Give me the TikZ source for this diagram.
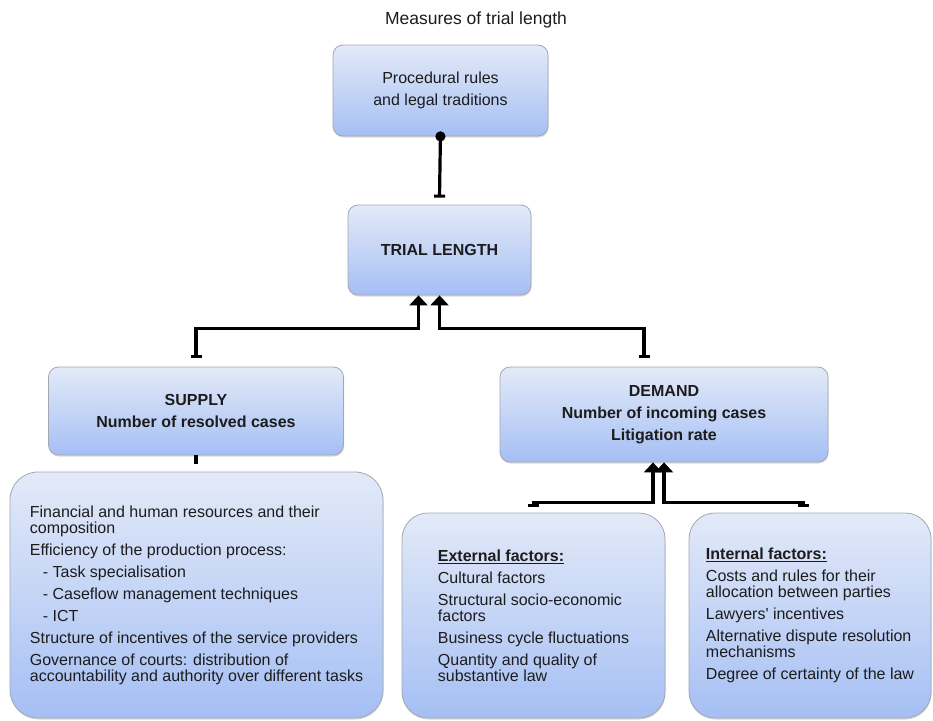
\documentclass[tikz,border=0pt]{standalone}
\usepackage{fontspec}
\setmainfont{Liberation Sans}
\usepackage{tikz}
\usetikzlibrary{positioning,arrows.meta,shadows}
\usepackage{xcolor}
\definecolor{boxtop}{HTML}{E3EAF8}
\definecolor{boxbot}{HTML}{A5BFF4}
\definecolor{boxline}{HTML}{A3A7B0}
\definecolor{ink}{HTML}{1C1C1C}

\begin{document}
\begin{tikzpicture}[x=1pt,y=1pt,
  every node/.style={font=\fontsize{16}{22}\selectfont, text=ink},
  box/.style={draw=boxline, line width=0.8pt, rounded corners=10pt, top color=boxtop, bottom color=boxbot,
    align=center, inner sep=0pt, drop shadow={opacity=0.3,shadow xshift=0.5pt,shadow yshift=-1.5pt}},
  headbox/.style={box, font=\fontsize{16}{22}\selectfont\bfseries},
  bigbox/.style={box, rounded corners=28pt, align=left, font=\fontsize{16}{16}\selectfont},
  link/.style={line width=3.2pt, {Rectangle[width=11pt,length=3pt]}-{Triangle[width=18pt,length=10pt]}},
  dotlink/.style={line width=3.2pt, {Circle[length=10pt]}-{Rectangle[width=11pt,length=3pt]}},
  stub/.style={line width=3.2pt}]
\useasboundingbox (0,0) rectangle (933,-720);
\node[font=\fontsize{17.5}{20}\selectfont] (title) at (476,-20) {Measures of trial length};
\node[box, minimum width=215pt, minimum height=91pt] (proc) at (440.5,-90.5) {Procedural rules\\and legal traditions};
\node[headbox, minimum width=183pt, minimum height=90pt] (trial) at (439.5,-250) {TRIAL LENGTH};
\node[headbox, minimum width=295pt, minimum height=88pt] (supply) at (196,-411) {SUPPLY\\Number of resolved cases};
\node[headbox, minimum width=328pt, minimum height=95pt] (demand) at (664,-414.5) {DEMAND\\Number of incoming cases\\Litigation rate};
\node[bigbox, minimum width=373pt, minimum height=246pt] (supfac) at (196.5,-595) {Financial and human resources and their\\composition\\[6pt]Efficiency of the production process:\\[6pt]\hspace*{13pt}- Task specialisation\\[6pt]\hspace*{13pt}- Caseflow management techniques\\[6pt]\hspace*{13pt}- ICT\\[6pt]Structure of incentives of the service providers\\[6pt]Governance of courts: distribution of\\accountability and authority over different tasks};
\node[bigbox, rounded corners=26pt, minimum width=263pt, minimum height=205pt] (extfac) at (533.5,-615.5) {\underline{\textbf{External factors:}}\\[6pt]Cultural factors\\[6pt]Structural socio-economic\\factors\\[6pt]Business cycle fluctuations\\[6pt]Quantity and quality of\\substantive law};
\node[bigbox, rounded corners=26pt, minimum width=242pt, minimum height=205pt] (intfac) at (810,-615.5) {\underline{\textbf{Internal factors:}}\\[6pt]Costs and rules for their\\allocation between parties\\[6pt]Lawyers\textquotesingle{} incentives\\[6pt]Alternative dispute resolution\\mechanisms\\[6pt]Degree of certainty of the law};
\draw[dotlink] ([yshift=5pt]proc.south) -- ([yshift=7pt]trial.north);
\draw[link] ([yshift=9pt]supply.north) -- ++(0,29) -| ([xshift=-21pt]trial.south);
\draw[link] ([xshift=-20pt,yshift=9pt]demand.north) -- ++(0,29) -| (trial.south);
\draw[stub] (supply.south) -- ([yshift=8pt]supfac.north -| supply.south);
\draw[link] ([yshift=6pt]extfac.north) -- ++(0,4) -| ([xshift=-11pt]demand.south);
\draw[link] ([xshift=-7pt,yshift=6pt]intfac.north) -- ++(0,4) -| (demand.south);
\end{tikzpicture}
\end{document}
